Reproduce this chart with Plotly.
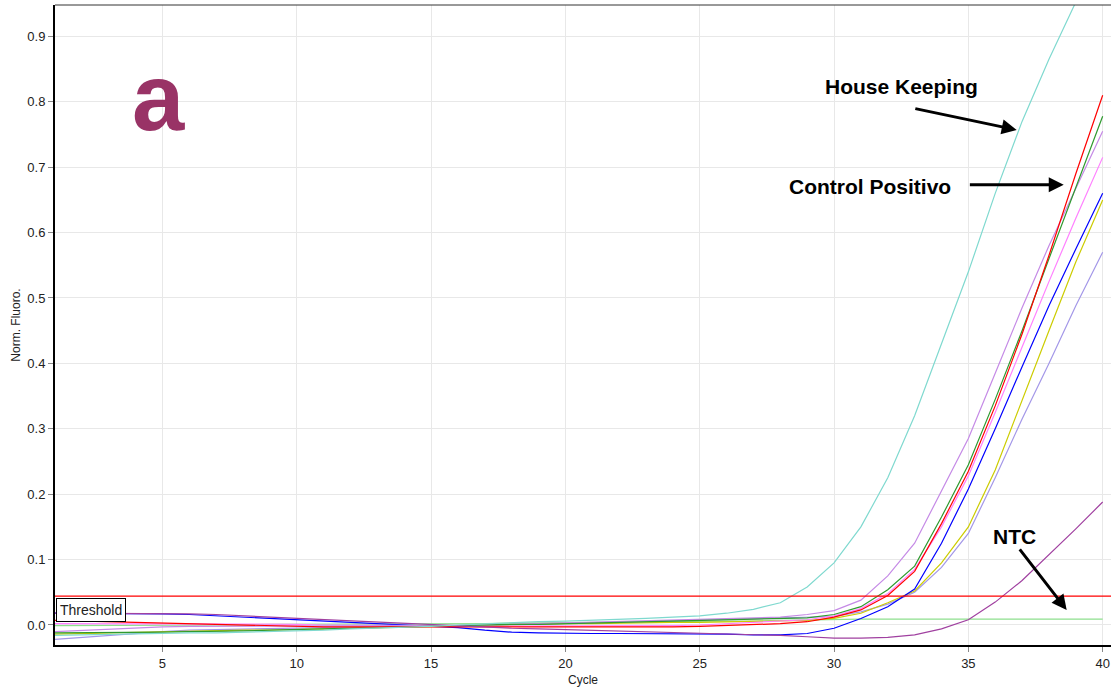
import plotly.graph_objects as go

cycles = list(range(1, 41))

house_keeping = [-0.016, -0.015, -0.014, -0.013, -0.013, -0.012, -0.012, -0.011, -0.011, -0.010,
                 -0.008, -0.006, -0.005, -0.003, -0.002, 0.000, 0.002, 0.003, 0.005, 0.006,
                 0.007, 0.008, 0.010, 0.012, 0.014, 0.018, 0.024, 0.034, 0.058, 0.095,
                 0.150, 0.225, 0.320, 0.430, 0.540, 0.660, 0.770, 0.865, 0.955, 1.040]
red_s = [0.007, 0.006, 0.004, 0.003, 0.002, 0.001, 0.000, -0.001, -0.002, -0.002,
         -0.003, -0.003, -0.003, -0.003, -0.003, -0.003, -0.003, -0.004, -0.004, -0.004,
         -0.004, -0.004, -0.004, -0.003, -0.002, -0.001, 0.000, 0.002, 0.005, 0.012,
         0.023, 0.045, 0.082, 0.155, 0.235, 0.335, 0.445, 0.565, 0.690, 0.810]
green_s = [-0.012, -0.012, -0.011, -0.011, -0.011, -0.010, -0.010, -0.009, -0.008, -0.007,
           -0.005, -0.004, -0.003, -0.002, -0.001, 0.000, 0.000, 0.001, 0.001, 0.002,
           0.002, 0.003, 0.004, 0.005, 0.006, 0.007, 0.008, 0.009, 0.011, 0.016,
           0.028, 0.054, 0.090, 0.165, 0.245, 0.345, 0.450, 0.560, 0.668, 0.778]
orchid_s = [-0.010, -0.008, -0.006, -0.004, -0.003, -0.002, -0.002, -0.002, -0.002, -0.002,
            -0.002, -0.002, -0.002, -0.002, -0.002, -0.001, 0.000, 0.001, 0.002, 0.003,
            0.004, 0.005, 0.006, 0.007, 0.008, 0.009, 0.010, 0.012, 0.016, 0.022,
            0.038, 0.075, 0.125, 0.205, 0.285, 0.385, 0.485, 0.580, 0.668, 0.755]
pink_s = [0.002, 0.002, 0.002, 0.002, 0.002, 0.002, 0.001, 0.001, 0.001, 0.001,
          0.000, 0.000, -0.001, -0.001, -0.001, -0.002, -0.002, -0.002, -0.002, -0.002,
          -0.002, -0.002, -0.001, -0.001, 0.000, 0.002, 0.003, 0.005, 0.008, 0.014,
          0.025, 0.048, 0.085, 0.150, 0.228, 0.325, 0.425, 0.525, 0.622, 0.715]
blue_s = [0.018, 0.018, 0.018, 0.018, 0.017, 0.016, 0.014, 0.013, 0.011, 0.009,
          0.007, 0.005, 0.003, 0.001, -0.001, -0.004, -0.008, -0.011, -0.012, -0.013,
          -0.013, -0.013, -0.013, -0.013, -0.013, -0.014, -0.015, -0.015, -0.013, -0.005,
          0.010, 0.028, 0.055, 0.125, 0.208, 0.300, 0.395, 0.488, 0.575, 0.660]
yellow_s = [-0.014, -0.013, -0.013, -0.012, -0.011, -0.010, -0.009, -0.008, -0.008, -0.007,
            -0.006, -0.005, -0.004, -0.003, -0.002, -0.001, 0.000, 0.001, 0.001, 0.002,
            0.002, 0.003, 0.003, 0.004, 0.004, 0.005, 0.005, 0.006, 0.007, 0.010,
            0.018, 0.034, 0.052, 0.095, 0.150, 0.237, 0.345, 0.450, 0.555, 0.650]
slate_s = [-0.022, -0.019, -0.015, -0.012, -0.010, -0.008, -0.007, -0.006, -0.005, -0.005,
           -0.004, -0.004, -0.003, -0.003, -0.002, -0.002, -0.001, 0.000, 0.001, 0.002,
           0.003, 0.004, 0.005, 0.006, 0.007, 0.008, 0.009, 0.010, 0.011, 0.013,
           0.020, 0.032, 0.050, 0.088, 0.140, 0.225, 0.315, 0.400, 0.488, 0.570]
ntc = [0.018, 0.018, 0.018, 0.018, 0.018, 0.017, 0.016, 0.014, 0.012, 0.010,
       0.008, 0.006, 0.004, 0.002, 0.000, -0.002, -0.004, -0.005, -0.006, -0.007,
       -0.008, -0.009, -0.010, -0.011, -0.012, -0.013, -0.014, -0.016, -0.018, -0.020,
       -0.020, -0.019, -0.015, -0.006, 0.008, 0.035, 0.068, 0.107, 0.147, 0.188]
light_green_s = [-0.001, -0.001, -0.001, 0.000, 0.000, 0.000, 0.000, 0.000, 0.001, 0.001,
                 0.001, 0.001, 0.001, 0.002, 0.002, 0.002, 0.002, 0.003, 0.003, 0.003,
                 0.004, 0.004, 0.005, 0.005, 0.005, 0.006, 0.006, 0.007, 0.008, 0.009,
                 0.009, 0.009, 0.009, 0.009, 0.009, 0.009, 0.009, 0.009, 0.009, 0.009]

threshold = 0.044
x_ticks = [5, 10, 15, 20, 25, 30, 35, 40]
y_ticks = [0.0, 0.1, 0.2, 0.3, 0.4, 0.5, 0.6, 0.7, 0.8, 0.9]

series = [
    ("Light green", light_green_s, "#8ee08e"),
    ("Slate", slate_s, "#a397e8"),
    ("Yellow", yellow_s, "#cccc00"),
    ("Blue", blue_s, "#0000ff"),
    ("Pink", pink_s, "#ff80ff"),
    ("Orchid", orchid_s, "#c58ae6"),
    ("Green", green_s, "#2f9a2f"),
    ("Red", red_s, "#ff0000"),
    ("NTC", ntc, "#a040a0"),
    ("House Keeping", house_keeping, "#7fd9cf"),
]

FONT = "Arial, 'Liberation Sans', sans-serif"

fig = go.Figure()
for name, vals, col in series:
    fig.add_trace(go.Scatter(x=cycles, y=vals, mode="lines", name=name,
                             line=dict(color=col, width=1.2), showlegend=False))

fig.add_trace(go.Scatter(x=[1, 40.31], y=[threshold, threshold], mode="lines",
                         line=dict(color="#ff0000", width=1.2), showlegend=False))

fig.update_layout(
    width=1111, height=691,
    margin=dict(l=55, r=0, t=5, b=46),
    paper_bgcolor="white", plot_bgcolor="white",
    font=dict(family=FONT, size=13, color="#222222"),
    xaxis=dict(range=[1, 40.31], tickvals=x_ticks, showgrid=True, gridcolor="#e8e8e8",
               gridwidth=1, showline=True, linecolor="black", linewidth=2,
               ticks="outside", ticklen=5, tickcolor="#888888", zeroline=False,
               title=dict(text="Cycle", font=dict(size=12), standoff=6)),
    yaxis=dict(range=[-0.0306, 0.948], tickvals=y_ticks, tickformat=".1f", showgrid=True,
               gridcolor="#e8e8e8", gridwidth=1, showline=True, linecolor="black",
               linewidth=2, ticks="outside", ticklen=5, tickcolor="#888888",
               zeroline=False,
               title=dict(text="Norm. Fluoro.", font=dict(size=12), standoff=4)),
)

fig.add_shape(type="line", xref="paper", yref="paper", x0=0, x1=1, y0=1, y1=1,
              line=dict(color="#333333", width=1))

# Threshold label
fig.add_annotation(xref="paper", x=0.001, yref="y", y=threshold - 0.003,
                   xanchor="left", yanchor="top", text="Threshold", showarrow=False,
                   bgcolor="white", bordercolor="black", borderwidth=1, borderpad=3,
                   font=dict(size=14, color="#222222"))

# Panel letter
fig.add_annotation(x=4.85, y=0.807, xref="x", yref="y", text="<b>a</b>", showarrow=False,
                   font=dict(size=94, color="#993366", family=FONT))

label_font = dict(size=21, color="black", family=FONT)
fig.add_annotation(x=32.5, y=0.823, text="<b>House Keeping</b>", showarrow=False, font=label_font)
fig.add_annotation(x=31.33, y=0.671, text="<b>Control Positivo</b>", showarrow=False, font=label_font)
fig.add_annotation(x=36.7, y=0.136, text="<b>NTC</b>", showarrow=False, font=label_font)

arrow_style = dict(showarrow=True, arrowhead=2, arrowsize=1.0, arrowwidth=3,
                   arrowcolor="black", axref="x", ayref="y", text="")
fig.add_annotation(x=36.8, y=0.757, ax=32.97, ay=0.79, **arrow_style)
fig.add_annotation(x=38.55, y=0.673, ax=35.0, ay=0.673, **arrow_style)
fig.add_annotation(x=38.66, y=0.023, ax=36.87, ay=0.118, **arrow_style)

fig.write_html("out.html", config={"displayModeBar": False},
               post_script="document.body.style.margin='0';")
